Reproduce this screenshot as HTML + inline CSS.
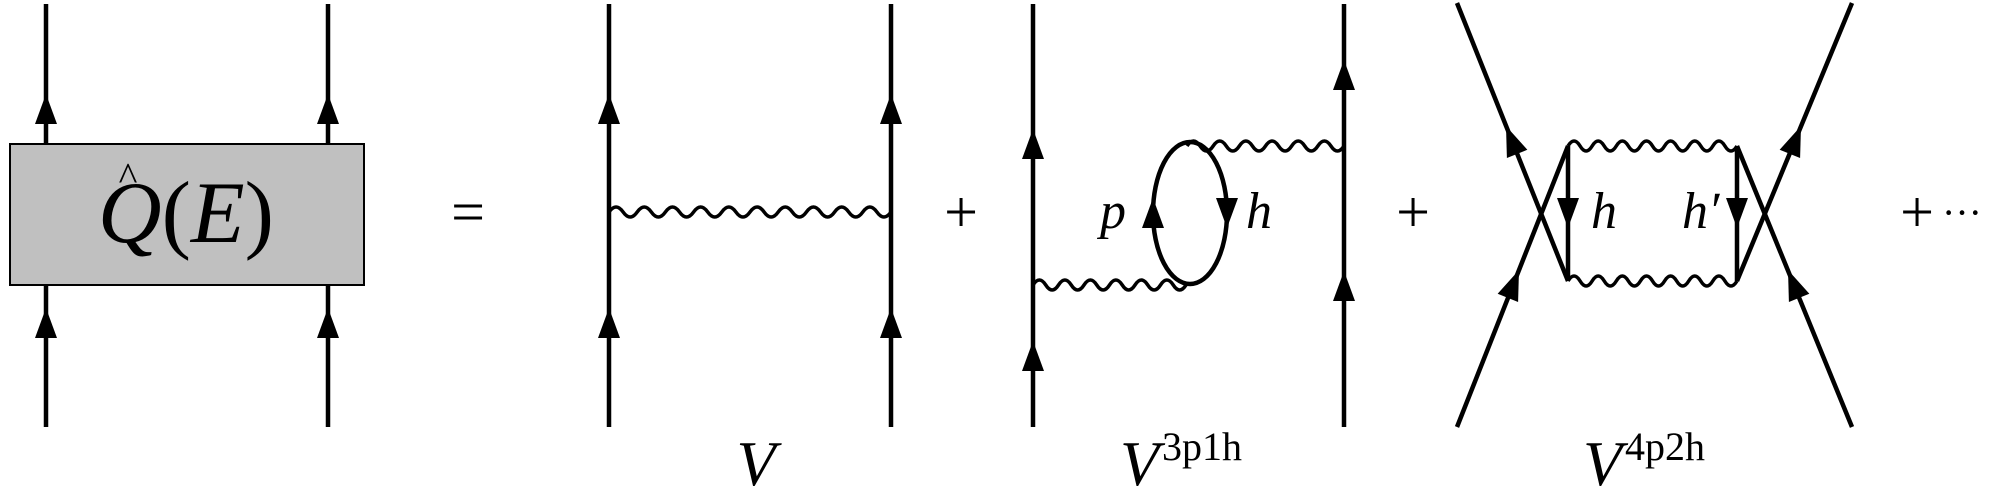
<!DOCTYPE html>
<html><head><meta charset="utf-8"><style>
html,body{margin:0;padding:0;background:#fff;}
svg{display:block;}
text{font-family:"Liberation Serif",serif;fill:#000;}
.i{font-style:italic;}
</style></head><body>
<svg id="s" width="2010" height="496" viewBox="0 0 2010 496" xmlns="http://www.w3.org/2000/svg">
<g stroke="#000" stroke-width="4.5" fill="none" stroke-linecap="butt">
<line x1="46" y1="4" x2="46" y2="427"/>
<line x1="328" y1="4" x2="328" y2="427"/>
<line x1="609" y1="4" x2="609" y2="427"/>
<line x1="891" y1="4" x2="891" y2="427"/>
<line x1="1033" y1="4" x2="1033" y2="427"/>
<line x1="1344" y1="4" x2="1344" y2="427"/>
<line x1="1457" y1="3" x2="1568" y2="281"/>
<line x1="1457" y1="427" x2="1568" y2="146"/>
<line x1="1852" y1="3" x2="1737" y2="281"/>
<line x1="1852" y1="427" x2="1737" y2="146"/>
<line x1="1568" y1="146" x2="1568" y2="281"/>
<line x1="1737" y1="146" x2="1737" y2="281"/>
<ellipse cx="1190" cy="213" rx="37" ry="71"/>
<g id="waves" stroke-width="3.5"></g>
</g>
<rect x="10" y="144" width="354" height="141" fill="#c0c0c0" stroke="#000" stroke-width="2"/>
<g fill="#000" id="arrows"></g>
<text x="186" y="242" font-size="88" text-anchor="middle"><tspan class="i">Q</tspan>(<tspan class="i">E</tspan>)</text>
<text x="128" y="190" font-size="40" text-anchor="middle">^</text>
<text x="468" y="232" font-size="60" text-anchor="middle">=</text>
<text x="961" y="232" font-size="60" text-anchor="middle">+</text>
<text x="1413" y="232" font-size="60" text-anchor="middle">+</text>
<text x="1917" y="232" font-size="60" text-anchor="middle">+</text>
<text x="1942" y="226" font-size="40">···</text>
<text x="756" y="485" font-size="64" class="i" text-anchor="middle">V</text>
<text x="1120" y="485" font-size="64" class="i">V</text>
<text x="1162" y="460" font-size="40">3p1h</text>
<text x="1583" y="485" font-size="64" class="i">V</text>
<text x="1625" y="460" font-size="40">4p2h</text>
<text x="1100" y="228" font-size="52" class="i">p</text>
<text x="1246" y="228" font-size="52" class="i">h</text>
<text x="1591" y="228" font-size="52" class="i">h</text>
<text x="1682" y="228" font-size="52" class="i">h′</text>
</svg>
<script>
var NS="http://www.w3.org/2000/svg";
function wave(x1,x2,y,wl,a){var n=Math.max(1,Math.round((x2-x1)/wl));var w=(x2-x1)/n;var d="M"+x1+" "+y;
for(var i=0;i<n;i++){var x=x1+i*w;d+=" Q"+(x+w/4)+" "+(y-2*a)+" "+(x+w/2)+" "+y+" Q"+(x+3*w/4)+" "+(y+2*a)+" "+(x+w)+" "+y;}
var p=document.createElementNS(NS,"path");p.setAttribute("d",d);document.getElementById("waves").appendChild(p);}
wave(609,891,212,28,5);
wave(1033,1186,285,26,5);
wave(1187,1344,146,26,5);
wave(1568,1737,146,26,5);
wave(1568,1737,281,26,5);
function arrow(x,y,ang){
var L=30,W=11;var p=document.createElementNS(NS,"polygon");
p.setAttribute("points",x+","+y+" "+(x-W)+","+(y+L)+" "+(x+W)+","+(y+L));
p.setAttribute("transform","rotate("+ang+" "+x+" "+y+")");document.getElementById("arrows").appendChild(p);}
[46,328,609,891].forEach(function(x){arrow(x,94,0);arrow(x,308,0);});
arrow(1033,129,0);arrow(1033,341,0);
arrow(1344,60,0);arrow(1344,271,0);
arrow(1153,198,0);arrow(1227,228,180);
arrow(1568,228,180);arrow(1737,228,180);
var a1=Math.atan2(111,278)*180/Math.PI;
arrow(1506,126,-a1);arrow(1519,270,a1);
arrow(1801,126,a1);arrow(1788,270,-a1);
</script>
</body></html>
